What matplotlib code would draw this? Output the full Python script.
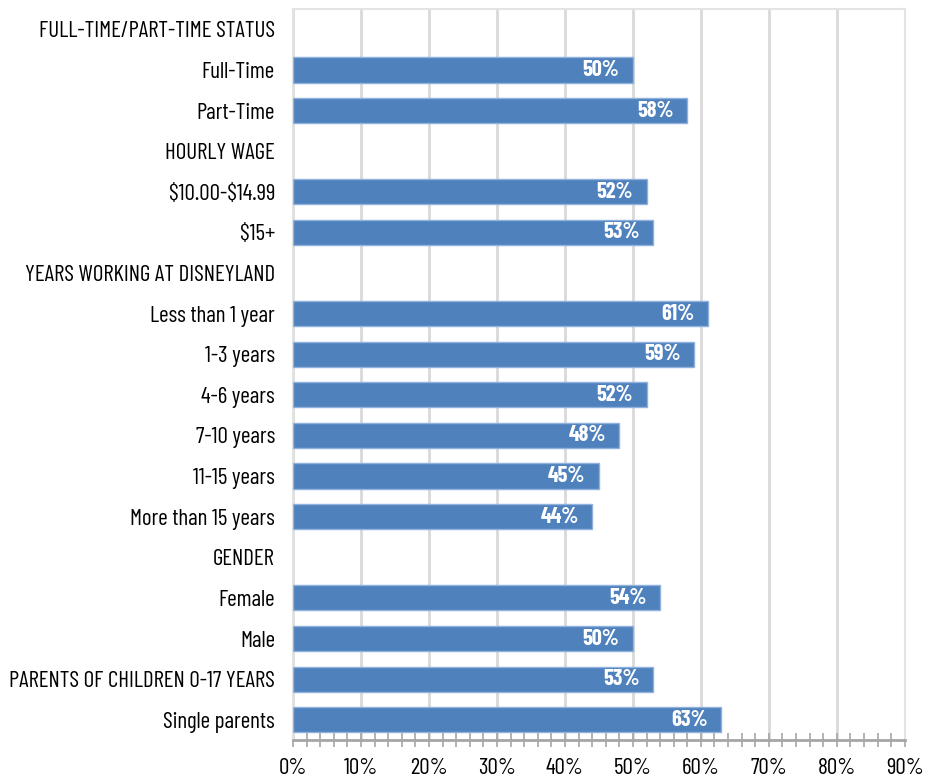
import matplotlib.pyplot as plt
from matplotlib.ticker import MultipleLocator, PercentFormatter

# rows from top to bottom; section headers carry no value
labels = [
    "FULL-TIME/PART-TIME STATUS",
    "Full-Time",
    "Part-Time",
    "HOURLY WAGE",
    "$10.00-$14.99",
    "$15+",
    "YEARS WORKING AT DISNEYLAND",
    "Less than 1 year",
    "1-3 years",
    "4-6 years",
    "7-10 years",
    "11-15 years",
    "More than 15 years",
    "GENDER",
    "Female",
    "Male",
    "PARENTS OF CHILDREN 0-17 YEARS",
    "Single parents",
]
values = [None, 50, 58, None, 52, 53, None, 61, 59, 52, 48, 45, 44, None, 54, 50, 53, 63]

plt.rcParams["font.family"] = ["Barlow Condensed", "DejaVu Sans"]
plt.rcParams["text.parse_math"] = False

fig = plt.figure(figsize=(9.29, 7.78), dpi=100)
ax = fig.add_axes([0.3154, 0.0488, 0.974 - 0.3154, 0.9884 - 0.0488])

ypos = list(range(len(labels)))
for y, v in zip(ypos, values):
    if v is None:
        continue
    ax.barh(y, v, height=0.62, color="#4f81bd", edgecolor="#8fb1dd", linewidth=1, zorder=3)
    ax.text(v - 2.0, y, f"{v}%", ha="right", va="center", color="white",
            fontsize=16, fontweight="bold", zorder=4)

ax.set_ylim(len(labels) - 0.5, -0.5)
ax.set_yticks(ypos)
ax.set_yticklabels(labels, fontsize=16.6)
ax.tick_params(axis="y", length=0, pad=13)

ax.set_xlim(0, 90)
ax.xaxis.set_major_locator(MultipleLocator(10))
ax.xaxis.set_minor_locator(MultipleLocator(2))
ax.xaxis.set_major_formatter(PercentFormatter(decimals=0))
ax.tick_params(axis="x", which="both", direction="inout", length=10, width=1.2,
               color="#a6a6a6", labelsize=16.6, pad=8)
ax.grid(axis="x", which="major", color="#d9d9d9", linewidth=2, zorder=0)

for side in ("top", "left", "right"):
    ax.spines[side].set_color("#e3e3e3")
    ax.spines[side].set_linewidth(1.5)
ax.spines["bottom"].set_color("#a6a6a6")
ax.spines["bottom"].set_linewidth(2)
ax.spines["bottom"].set_zorder(5)

fig.savefig("out.png", dpi=100)
